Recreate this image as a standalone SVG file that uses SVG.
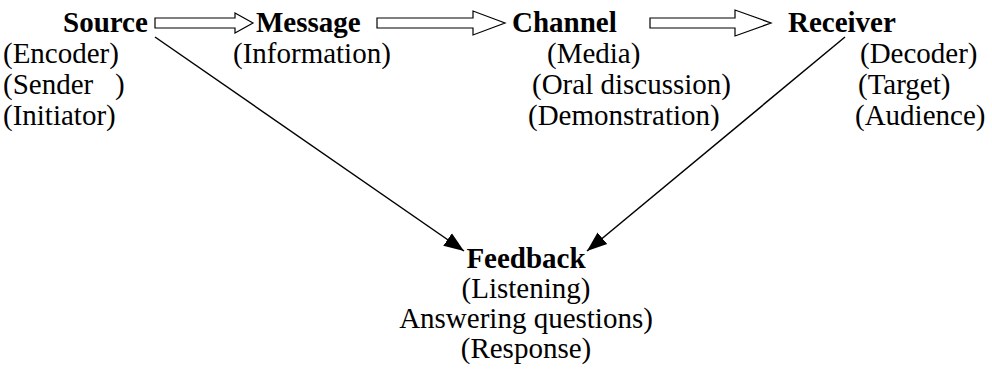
<svg xmlns="http://www.w3.org/2000/svg" width="992" height="375" viewBox="0 0 992 375">
<style>
text{font-family:"Liberation Serif","Times New Roman",Tinos,"DejaVu Serif",serif;font-size:29px;fill:#000}
.b{font-weight:bold}
.m{text-anchor:middle}
.blk{fill:#fff;stroke:#000;stroke-width:1.2}
.ln{stroke:#000;stroke-width:1.5;fill:none}
</style>
<defs>
<marker id="ah2" viewBox="0 0 10 10" refX="10" refY="5" markerWidth="20" markerHeight="20" markerUnits="userSpaceOnUse" orient="auto">
<path d="M0,1.2 L10,5 L0,8.8 z" fill="#000"/>
</marker>
</defs>
<g id="connectors">
<path class="blk" d="M155,18 H235 V13 L253,23 L235,33 V28 H155 Z"/>
<path class="blk" d="M377,18 H473 V11 L505,23 L473,35 V28 H377 Z"/>
<path class="blk" d="M650,18 H735 V10 L771,23 L735,36 V28 H650 Z"/>
<line class="ln" x1="155" y1="37" x2="464" y2="251" marker-end="url(#ah2)"/>
<line class="ln" x1="845" y1="37" x2="587" y2="251" marker-end="url(#ah2)"/>
</g>
<g id="source">
<text class="b" x="63" y="32" font-family="Liberation Serif, serif">Source</text>
<text x="3" y="63" font-family="Liberation Serif, serif">(Encoder)</text>
<text x="3" y="94" font-family="Liberation Serif, serif" xml:space="preserve">(Sender   )</text>
<text x="3" y="125" font-family="Liberation Serif, serif">(Initiator)</text>
</g>
<g id="message">
<text class="b" x="256" y="32" font-family="Liberation Serif, serif">Message</text>
<text x="233" y="63" font-family="Liberation Serif, serif">(Information)</text>
</g>
<g id="channel">
<text class="b" x="512" y="32" font-family="Liberation Serif, serif">Channel</text>
<text x="547" y="63" font-family="Liberation Serif, serif">(Media)</text>
<text x="532" y="94" font-family="Liberation Serif, serif">(Oral discussion)</text>
<text x="528" y="125" font-family="Liberation Serif, serif">(Demonstration)</text>
</g>
<g id="receiver">
<text class="b" x="788" y="32" font-family="Liberation Serif, serif">Receiver</text>
<text x="860" y="63" font-family="Liberation Serif, serif">(Decoder)</text>
<text x="858" y="94" font-family="Liberation Serif, serif">(Target)</text>
<text x="855" y="125" font-family="Liberation Serif, serif">(Audience)</text>
</g>
<g id="feedback">
<text class="b m" x="526" y="268" font-family="Liberation Serif, serif">Feedback</text>
<text class="m" x="526" y="298" font-family="Liberation Serif, serif">(Listening)</text>
<text class="m" x="526" y="328" font-family="Liberation Serif, serif">Answering questions)</text>
<text class="m" x="526" y="358" font-family="Liberation Serif, serif">(Response)</text>
</g>
</svg>
